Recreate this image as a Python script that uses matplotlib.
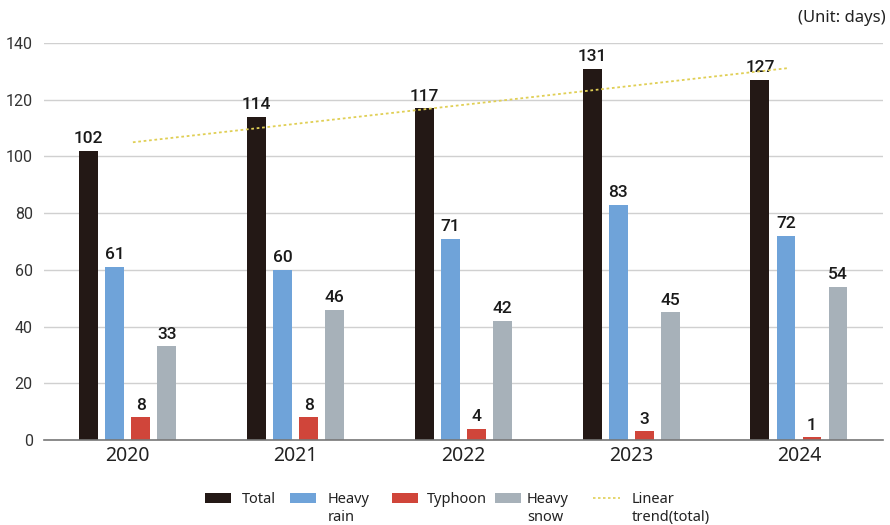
import matplotlib
matplotlib.use("Agg")
import matplotlib.pyplot as plt
import numpy as np
from matplotlib.lines import Line2D
from matplotlib.patches import Rectangle

years = ["2020", "2021", "2022", "2023", "2024"]
total = [102, 114, 117, 131, 127]
heavy_rain = [61, 60, 71, 83, 72]
typhoon = [8, 8, 4, 3, 1]
heavy_snow = [33, 46, 42, 45, 54]
yticks = [0, 20, 40, 60, 80, 100, 120, 140]

colors = ["#231815", "#6fa3d9", "#d0453a", "#a7b1b9"]
trend_color = "#e0cf55"
series = [total, heavy_rain, typhoon, heavy_snow]
labels = ["Total", "Heavy\nrain", "Typhoon", "Heavy\nsnow"]
trend_label = "Linear\ntrend(total)"

W, H = 890, 525
fig = plt.figure(figsize=(W / 100, H / 100), dpi=100)
ax = fig.add_axes([0.0494, 0.162, 0.9426, 0.756])

x = np.arange(len(years))
w = 0.113
step = 0.155
offsets = [-1.5, -0.5, 0.5, 1.5]
for s, c, o in zip(series, colors, offsets):
    pos = x + o * step
    ax.bar(pos, s, width=w, color=c, zorder=3)
    for px, v in zip(pos, s):
        ax.text(px, v + 1.6, str(v), ha="center", va="bottom", fontsize=12.5,
                family="Roboto", fontweight="medium", color="#1a1a1a", zorder=4)

coef = np.polyfit(x, total, 1)
tx = np.array([0.03, 3.94])
ax.plot(tx, np.polyval(coef, tx), linestyle=(0, (1.5, 1.5)), color=trend_color, lw=1.3, zorder=5)

ax.set_xlim(-0.5, 4.5)
ax.set_ylim(0, 140)
ax.set_yticks(yticks)
ax.set_yticklabels([str(t) for t in yticks], fontsize=11.5, color="#333333", family="Roboto")
ax.set_xticks(x)
ax.set_xticklabels(years, fontsize=14, color="#222222", family="Noto Sans")
ax.tick_params(axis="both", length=0)
ax.tick_params(axis="x", pad=4)
ax.tick_params(axis="y", pad=8)
ax.grid(axis="y", color="#d0d0d0", lw=1, zorder=0)
for sp in ["top", "right", "left"]:
    ax.spines[sp].set_visible(False)
ax.spines["bottom"].set_color("#777777")
ax.spines["bottom"].set_linewidth(1.2)
ax.spines["bottom"].set_zorder(6)

fig.text(0.995, 0.965, "(Unit: days)", ha="right", va="center", fontsize=12,
         color="#222222", family="Noto Sans")

# manual legend (handles aligned with first text line, labels left aligned)
leg_handle_x = [205, 290, 392, 495]
leg_text_x = [242, 328, 427, 527]
hw, hh = 26, 10
row_y = 498
for c, lab, hx, txp in zip(colors, labels, leg_handle_x, leg_text_x):
    fig.add_artist(Rectangle((hx / W, 1 - (row_y + hh / 2) / H), hw / W, hh / H,
                             transform=fig.transFigure, facecolor=c, edgecolor="none"))
    fig.text(txp / W, 1 - (row_y - 6) / H, lab, ha="left", va="top", fontsize=10.5,
             family="Noto Sans", color="#222222", linespacing=1.3)
fig.add_artist(Line2D([593 / W, 620 / W], [1 - row_y / H, 1 - row_y / H],
                      transform=fig.transFigure, color=trend_color, lw=1.2,
                      linestyle=(0, (1.5, 1.5))))
fig.text(632 / W, 1 - (row_y - 6) / H, trend_label, ha="left", va="top", fontsize=10.5,
         family="Noto Sans", color="#222222", linespacing=1.3)

fig.savefig("out.png", dpi=100)
